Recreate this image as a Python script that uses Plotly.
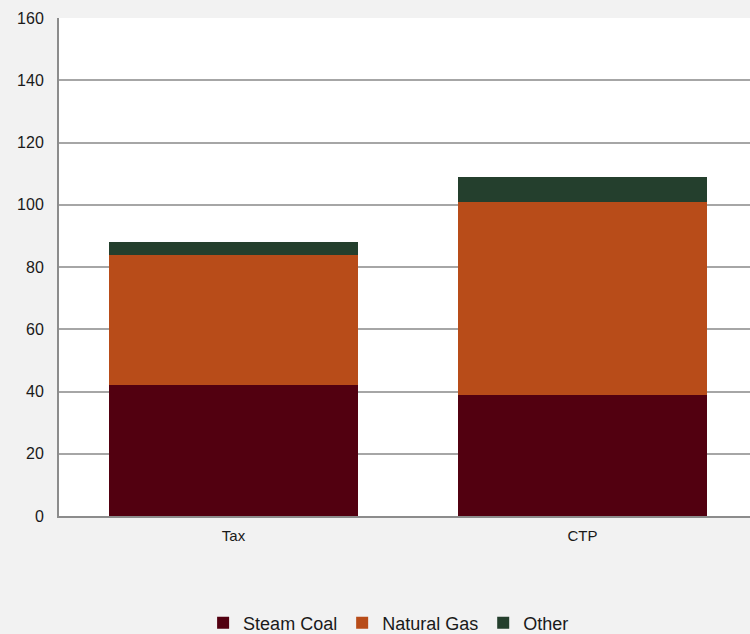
import plotly.graph_objects as go

categories = ["Tax", "CTP"]
steam_coal = [42, 39]
natural_gas = [42, 62]
other = [4, 8]
y_ticks = [0, 20, 40, 60, 80, 100, 120, 140, 160]

series = [
    ("Steam Coal", steam_coal, "#520010"),
    ("Natural Gas", natural_gas, "#b84c19"),
    ("Other", other, "#243f2d"),
]

fig = go.Figure()
for name, vals, color in series:
    fig.add_trace(go.Bar(
        x=categories, y=vals, name=name,
        marker=dict(color=color, line=dict(width=0)),
        width=0.713,
    ))

fig.update_layout(
    barmode="stack",
    width=750, height=634,
    paper_bgcolor="#f2f2f2",
    plot_bgcolor="#ffffff",
    margin=dict(l=59, r=0, t=18, b=118, autoexpand=False),
    font=dict(family="Liberation Sans, Arial, sans-serif", color="#1a1a1a", size=15),
    showlegend=True,
    legend=dict(
        orientation="h", x=0.477, xanchor="center", y=-0.215, yanchor="middle",
        font=dict(size=18), bgcolor="rgba(0,0,0,0)",
        itemwidth=30, traceorder="normal",
    ),
    xaxis=dict(
        range=[-0.5, 1.48], showgrid=False, showline=True,
        linecolor="#8c8c8c", linewidth=2, ticks="", ticklabelstandoff=5,
        tickfont=dict(size=15),
    ),
    yaxis=dict(
        range=[0, 160], tickvals=y_ticks, showgrid=True, gridcolor="#a6a6a6",
        gridwidth=1.5, showline=True, linecolor="#8c8c8c", linewidth=2,
        ticks="", ticklabelstandoff=10, zeroline=False, tickfont=dict(size=16),
    ),
)

fig.write_html("out.html")
